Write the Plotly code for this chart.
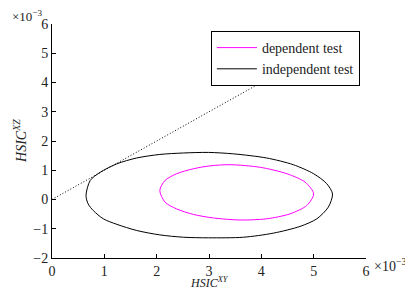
import plotly.graph_objects as go

# values in units of 1e-3
dep_x = [3.40, 3.02, 2.70, 2.38, 2.16, 2.06, 2.16, 2.38, 2.70, 3.08, 3.59, 4.10, 4.55, 4.87, 5.00, 4.84, 4.49, 3.98, 3.40]
dep_y = [1.19, 1.15, 1.05, 0.88, 0.65, 0.31, -0.09, -0.32, -0.51, -0.63, -0.70, -0.66, -0.49, -0.20, 0.19, 0.59, 0.88, 1.10, 1.19]

ind_x = [2.99, 2.51, 2.06, 1.62, 1.24, 0.92, 0.73, 0.65, 0.69, 0.79, 0.98, 1.24, 1.62, 2.06, 2.51, 2.99, 3.66, 4.23, 4.74, 5.06, 5.28, 5.36, 5.25, 5.00, 4.61, 4.10, 3.47, 2.99]
ind_y = [1.61, 1.59, 1.54, 1.42, 1.22, 0.93, 0.65, 0.14, -0.15, -0.38, -0.66, -0.85, -1.06, -1.21, -1.29, -1.31, -1.29, -1.15, -0.92, -0.66, -0.26, 0.19, 0.54, 0.88, 1.19, 1.42, 1.56, 1.61]

diag_x = [0, 4.42]
diag_y = [0, 4.42]

x_ticks = [0, 1, 2, 3, 4, 5, 6]
y_ticks = [-2, -1, 0, 1, 2, 3, 4, 5, 6]

SERIF = "Liberation Serif, Times New Roman, DejaVu Serif, serif"
TXT = "#222"

fig = go.Figure()
fig.add_trace(go.Scatter(x=diag_x, y=diag_y, mode="lines", showlegend=False,
                         line=dict(color="black", width=1, dash="1px,2px")))
fig.add_trace(go.Scatter(x=dep_x, y=dep_y, mode="lines", name="dependent test",
                         line=dict(color="#ff00ff", width=1, shape="spline", smoothing=0.8)))
fig.add_trace(go.Scatter(x=ind_x, y=ind_y, mode="lines", name="independent test",
                         line=dict(color="black", width=1, shape="spline", smoothing=0.8)))

axis_common = dict(showgrid=False, zeroline=False, showline=True, linecolor="black", linewidth=1,
                   ticks="inside", ticklen=4, tickcolor="black", mirror=False, automargin=False,
                   tickfont=dict(family=SERIF, size=14, color=TXT))

# page body has an 8px margin, so the figure is shrunk by 8px and margins adjusted
fig.update_layout(
    width=405, height=284,
    margin=dict(l=44, r=47, t=16, b=34),
    paper_bgcolor="white", plot_bgcolor="white",
    xaxis=dict(range=[0, 6], tickvals=x_ticks, ticktext=[str(v) for v in x_ticks], **axis_common),
    yaxis=dict(range=[-2, 6], tickvals=y_ticks,
               ticktext=[("\u2212" + str(-v)) if v < 0 else str(v) for v in y_ticks], **axis_common),
    legend=dict(x=0.506, y=0.97, xanchor="left", yanchor="top", itemwidth=40,
                bgcolor="white", bordercolor="black", borderwidth=1,
                font=dict(family=SERIF, size=14, color=TXT), tracegroupgap=0),
    showlegend=True,
)
# axis titles
fig.add_annotation(text="<i>HSIC</i><sup><i>XY</i></sup>", xref="paper", yref="paper",
                   x=0.5, y=-0.143, xanchor="center", yanchor="bottom", showarrow=False,
                   borderpad=0, font=dict(family=SERIF, size=12, color=TXT))
fig.add_annotation(text="<i>HSIC</i><sup><i>XZ</i></sup>", xref="paper", yref="paper",
                   x=-0.102, y=0.5, xanchor="center", yanchor="middle", showarrow=False,
                   textangle=-90, font=dict(family=SERIF, size=14, color=TXT))
# exponent labels
fig.add_annotation(text="\u00d710<sup>\u22123</sup>", xref="paper", yref="paper",
                   x=-0.134, y=1.036, xanchor="left", yanchor="middle", showarrow=False,
                   font=dict(family=SERIF, size=13, color=TXT))
fig.add_annotation(text="\u00d710<sup>\u22123</sup>", xref="paper", yref="paper",
                   x=1.02, y=-0.03, xanchor="left", yanchor="middle", showarrow=False,
                   font=dict(family=SERIF, size=14, color=TXT))

fig.write_html("out.html")
